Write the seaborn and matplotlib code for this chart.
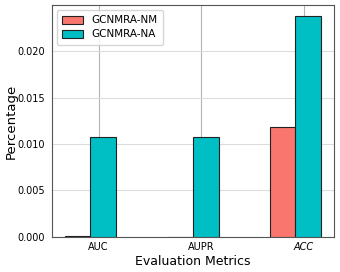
import pandas as pd
import seaborn as sns
import matplotlib.pyplot as plt

metrics = ['AUC', 'AUPR', 'ACC']
models = ['GCNMRA-NM', 'GCNMRA-NA']
nm_values = [0.00005, 0.00003, 0.0118]
na_values = [0.0108, 0.0108, 0.0238]
colors = ['#F8766D', '#00BFC4']

df = pd.DataFrame({
    'metric': metrics * 2,
    'model': [models[0]] * 3 + [models[1]] * 3,
    'value': nm_values + na_values,
})

sns.set_style('white')
plt.rcParams['font.family'] = ['DejaVu Sans']
plt.rcParams['text.color'] = 'black'
plt.rcParams['axes.labelcolor'] = 'black'
plt.rcParams['xtick.color'] = 'black'
plt.rcParams['ytick.color'] = 'black'

fig = plt.figure(figsize=(3.4, 2.72), dpi=100)
ax = fig.add_axes([0.153, 0.129, 0.829, 0.853])

sns.barplot(x='metric', y='value', hue='model', data=df, palette=colors,
            saturation=1, width=0.5, edgecolor='#222222', linewidth=0.8,
            ax=ax, zorder=3)

ax.set_xlim(-0.375, 2.375)
ax.set_ylim(0, 0.0238 * 1.05)
ax.set_yticks([0, 0.005, 0.01, 0.015, 0.02])
ax.set_yticklabels(['0.000', '0.005', '0.010', '0.015', '0.020'], fontsize=7)
ax.set_xticks([0.08, 1.08, 2.08])
ax.set_xticklabels(metrics, fontsize=7)
ax.get_xticklabels()[2].set_style('italic')
ax.tick_params(axis='y', direction='out', length=3, pad=2, color='#888888')
ax.tick_params(axis='x', direction='out', length=0, pad=4)

ax.xaxis.grid(True, color='#b5b5b5', linewidth=0.8, zorder=0)
ax.yaxis.grid(True, color='#dcdcdc', linewidth=0.8, zorder=0)
ax.set_axisbelow(True)
for s in ax.spines.values():
    s.set_color('#555555')
    s.set_linewidth(0.8)

ax.set_xlabel('Evaluation Metrics', fontsize=9, labelpad=2)
ax.set_ylabel('Percentage', fontsize=9.5)
ax.yaxis.set_label_coords(-0.12, 0.5)

ax.legend(loc='upper left', fontsize=7.5, frameon=True, edgecolor='#cccccc',
          handlelength=2, handleheight=0.8, borderpad=0.5, labelspacing=0.4)

plt.savefig('out.png', dpi=100)
